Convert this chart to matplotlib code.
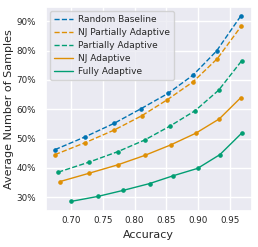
import matplotlib
matplotlib.use("Agg")
import matplotlib.pyplot as plt
import seaborn as sns
from matplotlib.ticker import PercentFormatter

sns.set_theme(style="darkgrid")
pal = sns.color_palette("colorblind")
blue, orange, green = pal[0], pal[1], pal[2]

# accuracy / fraction of samples
rand_acc = [0.675, 0.7226, 0.768, 0.8093, 0.8524, 0.892, 0.9287, 0.9666]
rand_smp = [46.2, 50.6, 55.2, 60.1, 65.4, 71.7, 79.9, 91.8]

njpa_acc = [0.675, 0.7226, 0.768, 0.8114, 0.851, 0.892, 0.930, 0.9675]
njpa_smp = [44.5, 48.6, 52.9, 57.8, 63.2, 69.4, 77.3, 88.4]

pa_acc = [0.680, 0.728, 0.7735, 0.816, 0.856, 0.895, 0.932, 0.968]
pa_smp = [38.5, 41.9, 45.5, 49.5, 54.3, 59.5, 66.5, 76.5]

nja_acc = [0.683, 0.728, 0.7735, 0.8156, 0.8566, 0.896, 0.933, 0.967]
nja_smp = [35.3, 38.1, 41.0, 44.2, 47.8, 51.8, 56.7, 64.0]

fa_acc = [0.700, 0.742, 0.7825, 0.8235, 0.861, 0.899, 0.934, 0.969]
fa_smp = [28.5, 30.2, 32.3, 34.6, 37.3, 39.8, 44.5, 52.0]

fig, ax = plt.subplots(figsize=(2.58, 2.47), dpi=100)

kw = dict(marker="o", markersize=2.3, linewidth=1.0)
ax.plot(rand_acc, rand_smp, "--", color=blue, label="Random Baseline", **kw)
ax.plot(njpa_acc, njpa_smp, "--", color=orange, label="NJ Partially Adaptive", **kw)
ax.plot(pa_acc, pa_smp, "--", color=green, label="Partially Adaptive", **kw)
ax.plot(nja_acc, nja_smp, "-", color=orange, label="NJ Adaptive", **kw)
ax.plot(fa_acc, fa_smp, "-", color=green, label="Fully Adaptive", **kw)

ax.set_xticks([0.70, 0.75, 0.80, 0.85, 0.90, 0.95])
ax.set_yticks([30, 40, 50, 60, 70, 80, 90])
ax.yaxis.set_major_formatter(PercentFormatter(decimals=0))
ax.tick_params(axis="x", labelsize=6.3, pad=4, length=0)
ax.tick_params(axis="y", labelsize=6.3, pad=7, length=0)
ax.set_xlabel("Accuracy", fontsize=8, labelpad=3.5)
ax.set_ylabel("Average Number of Samples", fontsize=8, labelpad=1.5)
leg = ax.legend(loc="upper left", fontsize=6.5, handlelength=2.1, borderpad=0.4,
                labelspacing=0.45, handletextpad=0.6)
for h in leg.legend_handles:
    h.set_marker("")

fig.subplots_adjust(left=0.177, right=0.975, top=0.972, bottom=0.147)
fig.savefig("out.png", dpi=100)
